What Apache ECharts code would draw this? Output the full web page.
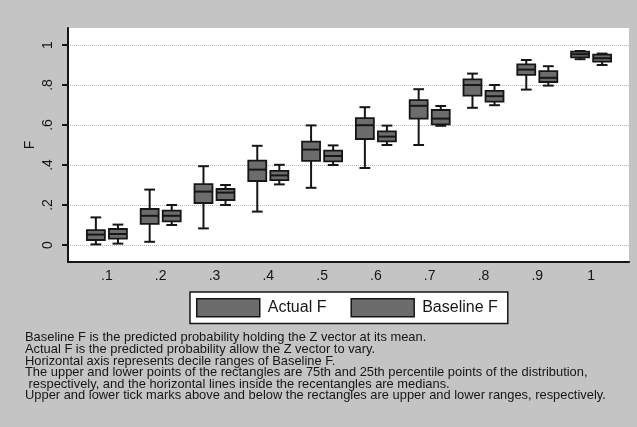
<!DOCTYPE html>
<html><head><meta charset="utf-8">
<script src="https://cdn.jsdelivr.net/npm/echarts@6/dist/echarts.min.js"></script>
<style>html,body{margin:0;padding:0;background:#c4c4c4}#c{width:637px;height:427px}</style>
</head><body><div id="c"></div>
<script>
const categories = ['.1', '.2', '.3', '.4', '.5', '.6', '.7', '.8', '.9', '1'];
const yTicks = [0, 0.2, 0.4, 0.6, 0.8, 1];
const seriesNames = ['Actual F', 'Baseline F'];
// each row: [lower range, 25th pct, median, 75th pct, upper range]
const actualF = [
  [0.003, 0.025, 0.052, 0.074, 0.138],
  [0.016, 0.106, 0.146, 0.180, 0.277],
  [0.083, 0.210, 0.267, 0.304, 0.394],
  [0.167, 0.320, 0.377, 0.422, 0.496],
  [0.286, 0.421, 0.477, 0.517, 0.598],
  [0.385, 0.530, 0.599, 0.634, 0.689],
  [0.500, 0.632, 0.696, 0.724, 0.779],
  [0.686, 0.747, 0.800, 0.828, 0.857],
  [0.777, 0.851, 0.877, 0.903, 0.925],
  [0.929, 0.938, 0.954, 0.967, 0.970]
];
const baselineF = [
  [0.007, 0.032, 0.055, 0.080, 0.102],
  [0.100, 0.118, 0.146, 0.172, 0.200],
  [0.200, 0.225, 0.262, 0.280, 0.300],
  [0.303, 0.324, 0.348, 0.371, 0.401],
  [0.400, 0.418, 0.445, 0.472, 0.498],
  [0.500, 0.518, 0.542, 0.568, 0.597],
  [0.596, 0.603, 0.632, 0.675, 0.695],
  [0.699, 0.717, 0.744, 0.771, 0.800],
  [0.797, 0.815, 0.836, 0.869, 0.894],
  [0.900, 0.917, 0.934, 0.952, 0.957]
];
const notes = [
  'Baseline F is the predicted probability holding the Z vector at its mean.',
  'Actual F is the predicted probability allow the Z vector to vary.',
  'Horizontal axis represents decile ranges of Baseline F.',
  'The upper and lower points of the rectangles are 75th and 25th percentile points of the distribution,',
  ' respectively, and the horizontal lines inside the recentangles are medians.',
  'Upper and lower tick marks above and below the rectangles are upper and lower ranges, respectively.'
];

const FONT = 'Liberation Sans, Arial, sans-serif';
const INK = '#161616';

function boxRenderer(side) {
  return function (params, api) {
    const idx = api.value(0);
    const bw = api.size([1, 0])[0];
    const cx = api.coord([idx, 0])[0] + side * bw * 0.205;
    const half = bw * 0.167;
    const capHalf = bw * 0.1;
    const y = i => api.coord([idx, api.value(i)])[1];
    const yLo = y(1), yQ1 = y(2), yMed = y(3), yQ3 = y(4), yHi = y(5);
    const line = (x1, y1, x2, y2) => ({
      type: 'line', shape: { x1, y1, x2, y2 },
      style: { stroke: INK, lineWidth: 2 }
    });
    return {
      type: 'group',
      children: [
        line(cx, yHi, cx, yQ3),
        line(cx, yQ1, cx, yLo),
        line(cx - capHalf, yHi, cx + capHalf, yHi),
        line(cx - capHalf, yLo, cx + capHalf, yLo),
        { type: 'rect', shape: { x: cx - half, y: yQ3, width: 2 * half, height: yQ1 - yQ3 },
          style: { fill: '#6c6c6c', stroke: INK, lineWidth: 1.8 } },
        line(cx - half, yMed, cx + half, yMed)
      ]
    };
  };
}

const toRows = arr => arr.map((r, i) => [i].concat(r));
const fmt = v => { const n = Number(v.toFixed(1)); return n === 0 ? '0' : n === 1 ? '1' : String(n).replace(/^0/, ''); };

const chart = echarts.init(document.getElementById('c'));
chart.setOption({
  animation: false,
  backgroundColor: '#c4c4c4',
  textStyle: { fontFamily: FONT },
  title: {
    left: 25, top: 332, padding: 0,
    text: notes.join('\n'),
    textStyle: { fontSize: 12.9, fontWeight: 'normal', lineHeight: 11.6, color: INK, fontFamily: FONT }
  },
  legend: {
    left: 190, top: 292, orient: 'horizontal', icon: 'rect',
    itemWidth: 63, itemHeight: 18, itemGap: 24,
    padding: [6, 10, 6, 6],
    backgroundColor: '#fff', borderColor: INK, borderWidth: 1.5, borderRadius: 0,
    textStyle: { fontSize: 16, color: INK, fontFamily: FONT, padding: [0, 0, 0, 3] },
    itemStyle: { color: '#6c6c6c', borderColor: INK, borderWidth: 1.5 },
    data: seriesNames
  },
  grid: [
    { left: 68, right: 8, top: 28, bottom: 165, show: true, backgroundColor: '#fff', borderWidth: 0 },
    { left: 80, right: 19, top: 28, bottom: 165 }
  ],
  xAxis: [
    { gridIndex: 0, type: 'value', min: 0, max: 1,
      axisLine: { show: true, onZero: false, lineStyle: { color: INK, width: 2 } },
      axisTick: { show: false }, axisLabel: { show: false }, splitLine: { show: false } },
    { gridIndex: 1, type: 'category', data: categories,
      axisLine: { show: false }, axisTick: { show: false }, splitLine: { show: false },
      axisLabel: { margin: 7, fontSize: 14, color: INK, fontFamily: FONT } }
  ],
  yAxis: [
    { gridIndex: 0, type: 'value', min: -0.085, max: 1.085,
      axisLine: { show: true, onZero: false, lineStyle: { color: INK, width: 2 } },
      axisTick: { show: true, length: 6, customValues: yTicks, lineStyle: { color: INK, width: 2 } },
      axisLabel: { customValues: yTicks, rotate: 90, margin: 13, fontSize: 14, color: INK, fontFamily: FONT, formatter: fmt },
      splitLine: { show: true, lineStyle: { type: 'dotted', color: '#b8b8b8', width: 1 } },
      name: 'F', nameLocation: 'middle', nameGap: 31, nameRotate: 90, nameMoveOverlap: false,
      nameTextStyle: { fontSize: 14, color: INK, fontFamily: FONT } },
    { gridIndex: 1, type: 'value', min: -0.085, max: 1.085, show: false }
  ],
  series: [
    { name: seriesNames[0], type: 'custom', xAxisIndex: 1, yAxisIndex: 1,
      itemStyle: { color: '#6c6c6c' },
      encode: { x: 0, y: [1, 2, 3, 4, 5] },
      renderItem: boxRenderer(-1), data: toRows(actualF) },
    { name: seriesNames[1], type: 'custom', xAxisIndex: 1, yAxisIndex: 1,
      itemStyle: { color: '#6c6c6c' },
      encode: { x: 0, y: [1, 2, 3, 4, 5] },
      renderItem: boxRenderer(1), data: toRows(baselineF) }
  ]
});
</script>
</body></html>
